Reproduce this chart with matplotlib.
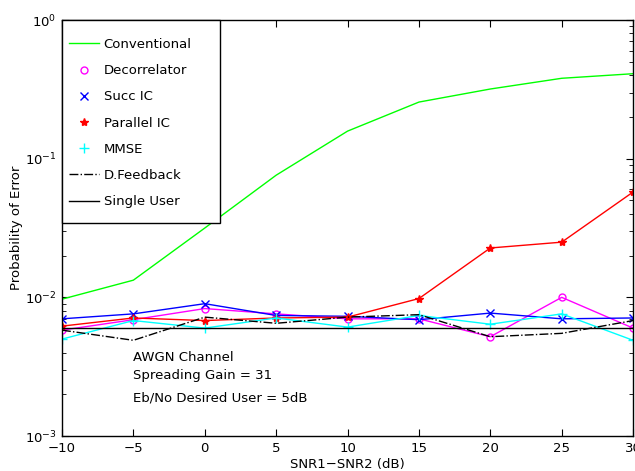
import matplotlib
matplotlib.use("Agg")
import matplotlib.pyplot as plt
from matplotlib.lines import Line2D
from matplotlib.patches import Rectangle
from matplotlib.ticker import LogLocator, NullFormatter, FixedLocator

plt.rcParams['font.family'] = ['DejaVu Sans']

snr_diff = [-10, -5, 0, 5, 10, 15, 20, 25, 30]
conventional = [0.0097, 0.0133, 0.0316, 0.076, 0.158, 0.256, 0.318, 0.38, 0.41]
decorrelator = [0.0058, 0.0069, 0.0083, 0.0076, 0.0070, 0.0070, 0.0052, 0.0100, 0.0060]
succ_ic = [0.0070, 0.0076, 0.0090, 0.0074, 0.0073, 0.0069, 0.0077, 0.0070, 0.0071]
parallel_ic = [0.0062, 0.0071, 0.0068, 0.0071, 0.0072, 0.0098, 0.0227, 0.0250, 0.0575]
mmse = [0.0050, 0.0068, 0.0060, 0.0071, 0.0061, 0.0074, 0.0064, 0.0076, 0.0049]
d_feedback = [0.0058, 0.0049, 0.0072, 0.0065, 0.0072, 0.0075, 0.0052, 0.0055, 0.0068]
single_user = [0.0060, 0.0060, 0.0060, 0.0060, 0.0060, 0.0060, 0.0060, 0.0060, 0.0060]

annotations = ["AWGN Channel", "Spreading Gain = 31", "Eb/No Desired User = 5dB"]
annotation_y = [3.66e-3, 2.71e-3, 1.88e-3]

FS = 9.5

fig = plt.figure(figsize=(6.35, 4.71), dpi=100)
ax = fig.add_axes([0.0976, 0.0743, 0.8994, 0.8832])

lw = 1.0
ax.plot(snr_diff, conventional, color=(0, 1, 0), lw=lw)
ax.plot(snr_diff, decorrelator, color=(1, 0, 1), lw=lw, marker='o', mfc='none', ms=5)
ax.plot(snr_diff, succ_ic, color=(0, 0, 1), lw=lw, marker='x', ms=6)
ax.plot(snr_diff, parallel_ic, color=(1, 0, 0), lw=lw, marker='*', ms=6)
ax.plot(snr_diff, mmse, color=(0, 1, 1), lw=lw, marker='+', ms=7)
ax.plot(snr_diff, d_feedback, color='k', lw=lw, ls='-.')
ax.plot(snr_diff, single_user, color='k', lw=lw)

ax.set_yscale('log')
ax.set_xlim(-10, 30)
ax.set_ylim(1e-3, 1)
ax.set_xticks([-10, -5, 0, 5, 10, 15, 20, 25, 30])
ax.set_xticklabels(['\u221210', '\u22125', '0', '5', '10', '15', '20', '25', '30'])
ax.yaxis.set_major_locator(FixedLocator([1e-3, 1e-2, 1e-1, 1]))
ax.set_yticklabels([r'$10^{-3}$', r'$10^{-2}$', r'$10^{-1}$', r'$10^{0}$'])
ax.yaxis.set_minor_locator(LogLocator(base=10, subs=range(2, 10)))
ax.yaxis.set_minor_formatter(NullFormatter())
ax.tick_params(which='both', direction='in', top=True, right=True, labelsize=FS)
ax.tick_params(which='major', length=5)
ax.tick_params(which='minor', length=3)
ax.tick_params(axis='x', which='major', pad=4.5)
ax.tick_params(axis='y', which='major', pad=4)
for s in ax.spines.values():
    s.set_linewidth(1.0)

ax.set_xlabel('SNR1\u2212SNR2 (dB)', fontsize=FS, labelpad=2)
ax.set_ylabel('Probability of Error', fontsize=FS, labelpad=1)

for txt, yv in zip(annotations, annotation_y):
    ax.text(-5, yv, txt, fontsize=FS, va='center', ha='left')

# legend frame (axes coordinates)
frame = Rectangle((0, 0.512), 0.2767, 0.488, transform=ax.transAxes, facecolor='white',
                  edgecolor='k', lw=1.0, zorder=4.5, clip_on=False)
ax.add_patch(frame)

handles = [
    Line2D([], [], color=(0, 1, 0), lw=lw),
    Line2D([], [], color=(1, 0, 1), ls='none', marker='o', mfc='none', ms=5),
    Line2D([], [], color=(0, 0, 1), ls='none', marker='x', ms=6),
    Line2D([], [], color=(1, 0, 0), ls='none', marker='*', ms=6),
    Line2D([], [], color=(0, 1, 1), ls='none', marker='+', ms=7),
    Line2D([], [], color='k', lw=lw, ls='-.'),
    Line2D([], [], color='k', lw=lw),
]
labels = ['Conventional', 'Decorrelator', 'Succ IC', 'Parallel IC', 'MMSE', 'D.Feedback', 'Single User']
leg = ax.legend(handles, labels, loc='upper left', bbox_to_anchor=(7 / 571, 1 - 18 / 416),
                fontsize=FS, frameon=False, borderaxespad=0, borderpad=0,
                labelspacing=1.0, handlelength=2.27, handletextpad=0.35)
leg.set_zorder(6)

fig.savefig('out.png', dpi=100)
